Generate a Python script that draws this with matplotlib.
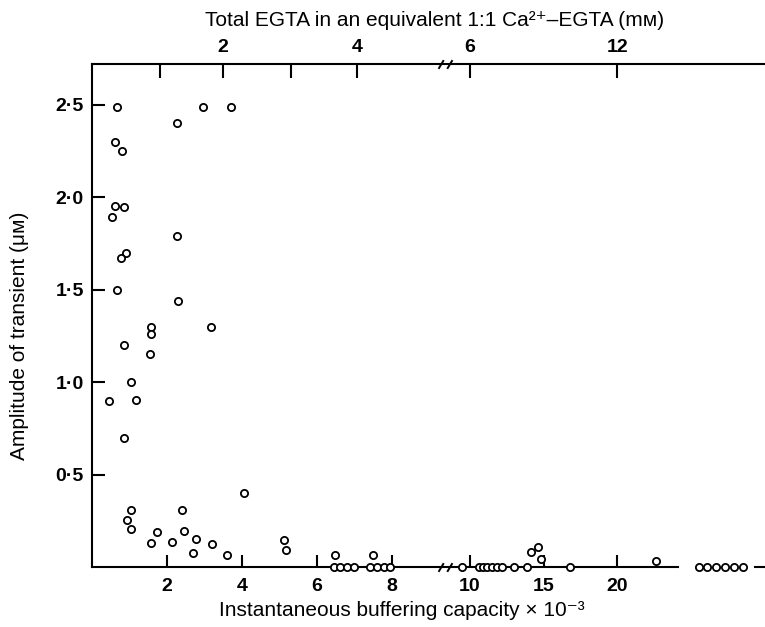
import numpy as np
import matplotlib
matplotlib.use("Agg")
import matplotlib.pyplot as plt
from matplotlib.path import Path

plt.rcParams['font.family'] = ['Liberation Sans', 'DejaVu Sans']

# instantaneous buffering capacity (x 10^-3) and transient amplitude (uM)
buffering_cap = [
    0.66, 2.95, 3.71, 2.26, 0.60, 0.80, 0.61, 0.84, 0.54, 2.26,
    0.90, 0.76, 0.66, 2.28, 3.16, 1.56, 1.57, 0.86, 1.55, 1.04,
    0.46, 1.17, 0.84, 4.06, 1.03, 2.39, 0.92, 1.04, 1.72, 2.46,
    1.57, 2.14, 2.77, 3.21, 2.70, 3.61, 5.12, 5.17, 6.48, 6.44,
    6.61, 6.79, 6.97, 7.48, 7.41, 7.59, 7.77, 7.95,
    9.47, 10.6, 10.9, 11.2, 11.5, 11.85, 12.15, 13.0, 13.9, 14.15,
    14.6, 14.8, 16.8, 22.6,
    25.5, 26.1, 26.7, 27.3, 27.9, 28.5,
]
amplitude = [
    2.49, 2.49, 2.49, 2.40, 2.30, 2.25, 1.95, 1.945, 1.89, 1.79,
    1.70, 1.67, 1.50, 1.44, 1.30, 1.30, 1.26, 1.20, 1.15, 1.00,
    0.895, 0.905, 0.70, 0.40, 0.31, 0.31, 0.255, 0.205, 0.19, 0.195,
    0.13, 0.135, 0.15, 0.123, 0.074, 0.063, 0.146, 0.094, 0.065, 0.0,
    0.0, 0.0, 0.0, 0.065, 0.0, 0.0, 0.0, 0.0,
    0.0, 0.0, 0.0, 0.0, 0.0, 0.0, 0.0, 0.0, 0.0, 0.08,
    0.11, 0.045, 0.0, 0.034,
    0.0, 0.0, 0.0, 0.0, 0.0, 0.0,
]

bottom_ticks = [2, 4, 6, 8, 10, 15, 20]
bottom_labels = ['2', '4', '6', '8', '10', '15', '20']
y_ticks = [0.5, 1.0, 1.5, 2.0, 2.5]
y_labels = ['0·5', '1·0', '1·5', '2·0', '2·5']
# total EGTA (mM) ticks, placed at the equivalent buffering capacity
egta_tick_pos = [1.81, 3.49, 5.31, 7.07, 10.0, 20.0]
egta_labels = ['', '2', '', '4', '6', '12']

BREAK = 9.4
X_MAX = 30.0


def fwd(x):
    x = np.asarray(x, dtype=float)
    return np.where(x <= BREAK, 37.5 * x, 377.5 + 14.75 * (x - 10))


def inv(u):
    u = np.asarray(u, dtype=float)
    lo = 37.5 * BREAK
    hi = 377.5 + 14.75 * (BREAK - 10)
    return np.where(u <= lo, u / 37.5,
                    np.where(u >= hi, 10 + (u - 377.5) / 14.75, BREAK))


W, H = 765, 627
fig = plt.figure(figsize=(W / 100, H / 100), dpi=100)
ax = fig.add_axes([92 / W, 1 - 567 / H, 1 - 92 / W, (567 - 64) / H])

ax.set_xscale('function', functions=(fwd, inv))
ax.set_xlim(0, X_MAX)
ax.set_ylim(0, 2.72)

lw = 1.5
for side in ('right', 'bottom'):
    ax.spines[side].set_visible(False)
for side in ('left', 'top'):
    ax.spines[side].set_linewidth(lw)

# bottom axis line, interrupted past the last tick
xt = ax.get_xaxis_transform()
ax.plot([0, 24.1], [0, 0], color='black', lw=lw, transform=xt,
        clip_on=False, zorder=2)
ax.plot([29.3, X_MAX], [0, 0], color='black', lw=lw, transform=xt,
        clip_on=False, zorder=2)

# "//" break marks on both horizontal axes
slashes = Path([(-1.6, -1), (-0.4, 1), (0.4, -1), (1.6, 1)],
               [Path.MOVETO, Path.LINETO, Path.MOVETO, Path.LINETO])
ax.plot([BREAK, BREAK], [0, 1], linestyle='none', marker=slashes,
        markersize=10, markeredgewidth=1.4, color='black',
        transform=xt, clip_on=False, zorder=3)

ax.plot(buffering_cap, amplitude, linestyle='none', marker='o',
        markersize=5.2, markerfacecolor='white', markeredgecolor='black',
        markeredgewidth=1.3, clip_on=False, zorder=4)

tick_fs = 14
ax.set_xticks(bottom_ticks)
ax.set_xticklabels(bottom_labels, fontsize=tick_fs, fontweight='bold')
ax.set_yticks(y_ticks)
ax.set_yticklabels(y_labels, fontsize=tick_fs, fontweight='bold')
ax.xaxis.set_minor_locator(plt.NullLocator())
ax.tick_params(axis='x', direction='in', length=9, width=lw, pad=8)
ax.tick_params(axis='y', direction='in', length=9, width=lw, pad=6)

top = ax.twiny()
top.set_xscale('function', functions=(fwd, inv))
top.set_xlim(0, X_MAX)
for side in top.spines:
    top.spines[side].set_visible(False)
top.set_xticks(egta_tick_pos)
top.set_xticklabels(egta_labels, fontsize=tick_fs, fontweight='bold')
top.xaxis.set_minor_locator(plt.NullLocator())
top.tick_params(axis='x', direction='in', length=10, width=lw, pad=6)

label_fs = 15
fig.text(402 / W, 1 - 611 / H,
         'Instantaneous buffering capacity \u00d7 10\u207b\u00b3',
         ha='center', va='center', fontsize=label_fs)
fig.text(435 / W, 1 - 21 / H,
         'Total EGTA in an equivalent 1:1 Ca\u00b2\u207a\u2013EGTA (m\u1d0d)',
         ha='center', va='center', fontsize=label_fs)
fig.text(20 / W, 1 - 336 / H, 'Amplitude of transient (\u03bc\u1d0d)',
         ha='center', va='center', rotation=90, fontsize=label_fs)

fig.savefig('out.png', dpi=100)
